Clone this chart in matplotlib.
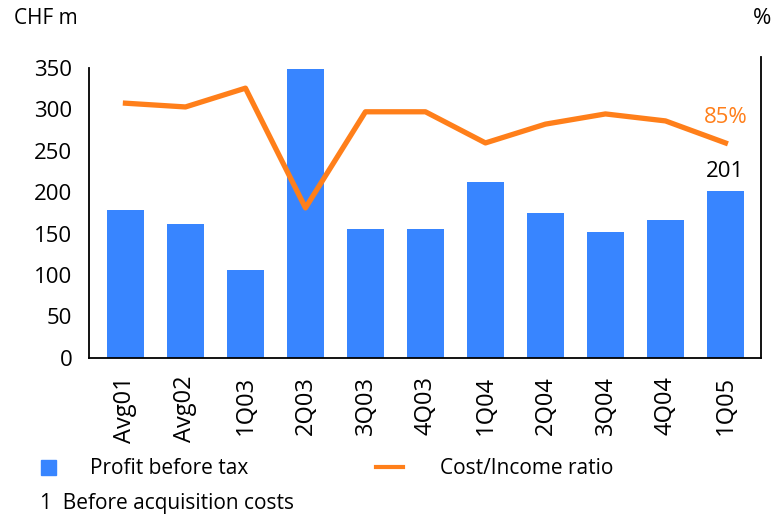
import matplotlib
matplotlib.use("Agg")
import matplotlib.pyplot as plt
from matplotlib.patches import Patch
from matplotlib.lines import Line2D

plt.rcParams['font.family'] = ['Open Sans', 'DejaVu Sans']

# data
quarters = ['Avg01', 'Avg02', '1Q03', '2Q03', '3Q03', '4Q03', '1Q04', '2Q04', '3Q04', '4Q04', '1Q05']
profit = [178, 161, 106, 349, 155, 155, 212, 175, 152, 166, 201]
cost_income = [92.4, 91.7, 95.2, 72.9, 90.8, 90.8, 85.0, 88.5, 90.4, 89.1, 85.0]

bar_col = '#3885FF'
line_col = '#FF7F1A'

fig = plt.figure(figsize=(7.71, 5.15), dpi=100)
ax = fig.add_axes([0.1154, 0.3054, 0.8712, 0.5839])

x = list(range(len(quarters)))
ax.bar(x, profit, width=0.62, color=bar_col, zorder=2)
ax.set_xlim(-0.608, 10.587)
ax.set_ylim(0, 363.3)
ax.set_yticks([0, 50, 100, 150, 200, 250, 300, 350])
ax.tick_params(axis='y', length=0, pad=12, labelsize=16)
ax.set_xticks(x)
ax.set_xticklabels(quarters, rotation=90, fontsize=17)
ax.tick_params(axis='x', length=0, pad=13)
ax.spines['top'].set_visible(False)
ax.spines['right'].set_visible(False)
ax.spines['left'].set_bounds(0, 350)
for s in ['left', 'bottom']:
    ax.spines[s].set_linewidth(1.3)

# cost/income ratio on secondary axis
ax2 = ax.twinx()
ax2.plot(x, cost_income, color=line_col, lw=3.8, zorder=3)
ax2.set_ylim(45, 101)
ax2.set_yticks([])
ax2.spines['top'].set_visible(False)
ax2.spines['left'].set_visible(False)
ax2.spines['bottom'].set_visible(False)
ax2.spines['right'].set_linewidth(1.3)

ax2.annotate('%d%%' % round(cost_income[-1]), (x[-1], cost_income[-1]), xytext=(0, 18),
             textcoords='offset points', ha='center', va='center', color=line_col, fontsize=16)
ax.annotate(str(profit[-1]), (x[-1], profit[-1]), xytext=(0, 14),
            textcoords='offset points', ha='center', va='center', color='black', fontsize=16)

fig.text(14 / 771, 1 - 19 / 515, 'CHF m', fontsize=15, va='center', ha='left')
fig.text(771 / 771, 1 - 19 / 515, '%', fontsize=16, va='center', ha='right')

leg1 = fig.legend(handles=[Patch(color=bar_col, label='Profit before tax')],
                  loc='center left', bbox_to_anchor=(22 / 771, 1 - 469 / 515), frameon=False,
                  fontsize=15, handlelength=0.75, handleheight=0.75, handletextpad=1.6)
leg2 = fig.legend(handles=[Line2D([0], [0], color=line_col, lw=3, label='Cost/Income ratio')],
                  loc='center left', bbox_to_anchor=(357 / 771, 1 - 469 / 515), frameon=False,
                  fontsize=15, handlelength=1.3, handletextpad=1.8)

fig.text(40 / 771, 1 - 503 / 515, '1  Before acquisition costs', fontsize=15, va='center', ha='left')

fig.savefig('out.png', dpi=100)
